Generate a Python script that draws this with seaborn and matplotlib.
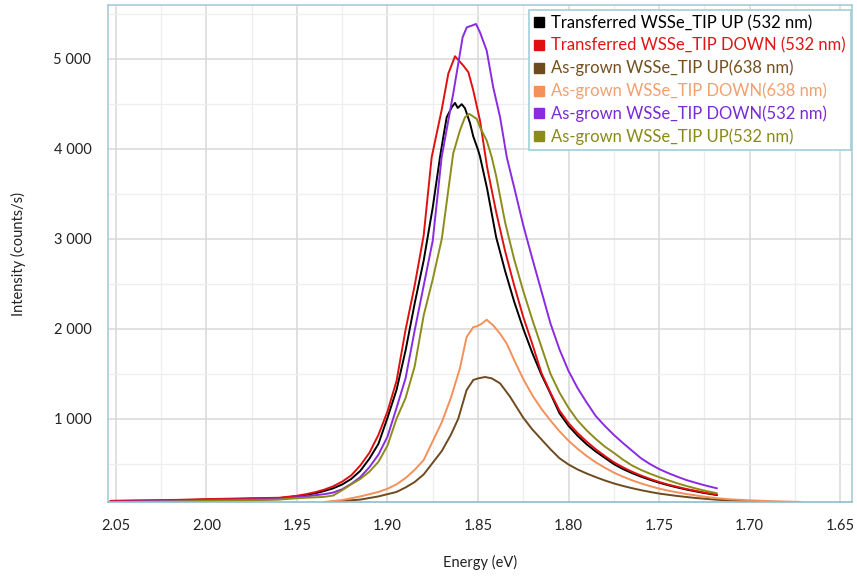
import matplotlib
matplotlib.use("Agg")
import matplotlib.pyplot as plt
from matplotlib.lines import Line2D
from matplotlib.ticker import MultipleLocator, FuncFormatter
import seaborn as sns
import pandas as pd

# ---------------- data ----------------
labels = [
    "Transferred WSSe_TIP UP (532 nm)",
    "Transferred WSSe_TIP DOWN (532 nm)",
    "As-grown WSSe_TIP UP(638 nm)",
    "As-grown WSSe_TIP DOWN(638 nm)",
    "As-grown WSSe_TIP DOWN(532 nm)",
    "As-grown WSSe_TIP UP(532 nm)",
]
line_colors = ["#000000", "#e01010", "#6e4a1f", "#f4905a", "#8a2be2", "#8c8c1c"]
text_colors = ["#000000", "#e01515", "#74501f", "#f2a070", "#7a2ad6", "#8a8a1a"]

black_E = [2.053, 2.02, 2.00, 1.975, 1.96, 1.95, 1.945, 1.94, 1.935, 1.93, 1.925, 1.92,
           1.915, 1.91, 1.905, 1.90, 1.895, 1.89, 1.885, 1.88, 1.875, 1.871, 1.8692,
           1.8673, 1.8645, 1.8627, 1.8612, 1.859, 1.8572, 1.8544, 1.8526, 1.85, 1.8489,
           1.845, 1.84, 1.835, 1.83, 1.825, 1.82, 1.815, 1.81, 1.805, 1.80, 1.795, 1.79,
           1.785, 1.78, 1.775, 1.77, 1.765, 1.76, 1.755, 1.75, 1.745, 1.74, 1.735, 1.73,
           1.725, 1.718]
black_I = [85, 90, 100, 110, 115, 138, 152, 170, 195, 225, 268, 330,
           420, 555, 720, 1010, 1320, 1760, 2280, 2760, 3350, 3907, 4130,
           4352, 4463, 4511, 4455, 4497, 4452, 4285, 4137, 3990, 3915,
           3560, 3020, 2640, 2300, 2000, 1730, 1490, 1280, 1060, 920, 810, 715,
           635, 565, 495, 440, 395, 355, 320, 288, 260, 235, 212, 192,
           173, 150]

red_E = [2.053, 2.02, 2.00, 1.975, 1.96, 1.95, 1.945, 1.94, 1.935, 1.93, 1.925, 1.92,
         1.915, 1.91, 1.905, 1.90, 1.895, 1.89, 1.885, 1.88, 1.8756, 1.8701, 1.8664,
         1.8627, 1.8614, 1.8581, 1.8553, 1.8526, 1.8489, 1.845, 1.84, 1.835, 1.83,
         1.825, 1.82, 1.815, 1.81, 1.805, 1.80, 1.795, 1.79, 1.785, 1.78, 1.775, 1.77,
         1.765, 1.76, 1.755, 1.75, 1.745, 1.74, 1.735, 1.73, 1.725, 1.718]
red_I = [85, 95, 105, 115, 120, 142, 160, 182, 210, 248, 300, 370,
         480, 620, 820, 1080, 1420, 1990, 2480, 3040, 3907, 4430, 4837,
         5030, 5000, 4926, 4852, 4648, 4315, 3800, 3300, 2860, 2480,
         2130, 1830, 1510, 1290, 1090, 950, 840, 745, 660, 585, 515, 460,
         410, 368, 330, 296, 267, 242, 218, 198, 178, 155]

brown_E = [1.9345, 1.925, 1.915, 1.905, 1.895, 1.89, 1.885, 1.88, 1.875, 1.87, 1.865,
           1.8609, 1.8563, 1.8526, 1.8499, 1.8461, 1.8424, 1.8378, 1.8323, 1.83, 1.825,
           1.82, 1.815, 1.81, 1.805, 1.80, 1.795, 1.79, 1.785, 1.78, 1.775, 1.77, 1.765,
           1.76, 1.755, 1.75, 1.74, 1.73, 1.718, 1.705, 1.695]
brown_I = [70, 85, 100, 135, 185, 235, 295, 380, 510, 640, 820,
           1000, 1318, 1430, 1448, 1463, 1448, 1392, 1244, 1170, 1010,
           880, 770, 660, 560, 490, 435, 390, 350, 313, 280, 252, 227,
           205, 185, 167, 140, 118, 98, 85, 78]

orange_E = [1.9345, 1.925, 1.915, 1.905, 1.90, 1.895, 1.89, 1.885, 1.88, 1.875, 1.87,
            1.865, 1.86, 1.8563, 1.8526, 1.8507, 1.848, 1.8452, 1.8416, 1.8378, 1.8341,
            1.83, 1.825, 1.82, 1.815, 1.81, 1.805, 1.80, 1.795, 1.79, 1.785, 1.78, 1.775,
            1.77, 1.765, 1.76, 1.755, 1.75, 1.745, 1.74, 1.735, 1.73, 1.725, 1.718, 1.71,
            1.70, 1.69, 1.68, 1.672]
orange_I = [74, 95, 135, 185, 220, 270, 340, 430, 540, 750, 960,
            1230, 1560, 1907, 2018, 2026, 2055, 2100, 2037, 1944, 1833,
            1650, 1440, 1260, 1110, 980, 860, 755, 665, 585, 515, 455, 400,
            355, 315, 280, 250, 222, 200, 180, 162, 147, 132, 115, 102,
            92, 84, 78, 74]

purple_E = [2.053, 2.02, 2.00, 1.975, 1.96, 1.95, 1.945, 1.94, 1.935, 1.93, 1.925, 1.92,
            1.915, 1.91, 1.905, 1.90, 1.895, 1.89, 1.885, 1.88, 1.875, 1.8701, 1.8664,
            1.8637, 1.8609, 1.8585, 1.8562, 1.8535, 1.8511, 1.8489, 1.8452, 1.8416, 1.8378,
            1.8341, 1.83, 1.825, 1.82, 1.815, 1.81, 1.805, 1.80, 1.795, 1.79, 1.785, 1.78,
            1.775, 1.77, 1.765, 1.76, 1.755, 1.75, 1.745, 1.74, 1.735, 1.73, 1.725, 1.718]
purple_I = [75, 85, 95, 100, 105, 125, 135, 148, 160, 178, 215, 275,
            350, 460, 600, 800, 1120, 1450, 1980, 2480, 2980, 3907, 4315,
            4615, 4948, 5241, 5352, 5370, 5389, 5296, 5093, 4685, 4352,
            3907, 3570, 3150, 2780, 2420, 2060, 1770, 1530, 1340, 1180, 1030, 920,
            820, 730, 645, 560, 495, 440, 395, 355, 318, 288, 260, 225]

olive_E = [2.053, 2.00, 1.975, 1.96, 1.95, 1.94, 1.935, 1.93, 1.925, 1.92, 1.915, 1.91,
           1.905, 1.90, 1.895, 1.89, 1.885, 1.88, 1.875, 1.87, 1.8637, 1.86, 1.8572,
           1.8548, 1.8507, 1.8489, 1.8452, 1.8424, 1.84, 1.835, 1.83, 1.825, 1.82, 1.815,
           1.81, 1.805, 1.80, 1.795, 1.79, 1.785, 1.78, 1.775, 1.77, 1.765, 1.76, 1.755,
           1.75, 1.745, 1.74, 1.735, 1.73, 1.725, 1.718]
olive_I = [70, 85, 92, 100, 115, 125, 130, 145, 205, 270, 330, 410,
           520, 700, 1000, 1230, 1580, 2150, 2550, 3000, 3950, 4204, 4352,
           4389, 4333, 4241, 4093, 3907, 3700, 3180, 2770, 2420, 2100, 1800,
           1500, 1290, 1120, 980, 870, 775, 690, 620, 545, 480, 430, 388,
           350, 315, 282, 252, 225, 200, 170]

series_E = [black_E, red_E, brown_E, orange_E, purple_E, olive_E]
series_I = [black_I, red_I, brown_I, orange_I, purple_I, olive_I]

x_ticks = [2.05, 2.00, 1.95, 1.90, 1.85, 1.80, 1.75, 1.70, 1.65]
y_ticks = [1000, 2000, 3000, 4000, 5000]

# ---------------- build table ----------------
frames = []
for lab, E, I in zip(labels, series_E, series_I):
    frames.append(pd.DataFrame({"Energy": E, "Intensity": I, "series": lab}))
df = pd.concat(frames, ignore_index=True)

sns.set_style("white")
plt.rcParams["font.family"] = ["Lato", "DejaVu Sans"]

fig = plt.figure(figsize=(8.57, 5.76), dpi=100)
ax = fig.add_axes([108 / 857, (576 - 502) / 576, (852 - 108) / 857, (502 - 5) / 576])

sns.lineplot(data=df, x="Energy", y="Intensity", hue="series", hue_order=labels,
             palette=dict(zip(labels, line_colors)), estimator=None, sort=False,
             linewidth=1.4, legend=False, ax=ax)

ax.set_xlim(2.0544, 1.6434)
ax.set_ylim(73, 5600)

ax.set_xticks(x_ticks)
ax.set_yticks(y_ticks)
ax.xaxis.set_minor_locator(MultipleLocator(0.025))
ax.yaxis.set_minor_locator(MultipleLocator(500))
ax.xaxis.set_major_formatter(FuncFormatter(lambda v, p: f"{v:.2f}"))
ax.yaxis.set_major_formatter(FuncFormatter(lambda v, p: f"{v:,.0f}".replace(",", " ")))

ax.grid(True, which="major", color="#d9d9d9", linewidth=1.1)
ax.grid(True, which="minor", color="#eeeeee", linewidth=0.9)
ax.set_axisbelow(True)

for s in ax.spines.values():
    s.set_visible(True)
    s.set_color("#a9cbd4")
    s.set_linewidth(1.2)
ax.spines["bottom"].set_color("#8fbccc")

ax.tick_params(axis="both", which="major", direction="out", length=5, width=0.8,
               color="#8a8a8a", labelsize=10.5, labelcolor="#222222", pad=7)
ax.tick_params(axis="both", which="minor", direction="out", length=3, width=0.8,
               color="#8a8a8a")

ax.set_xlabel("Energy (eV)", fontsize=10.5, color="#222222", labelpad=16)
ax.set_ylabel("Intensity (counts/s)", fontsize=10.5, color="#222222", labelpad=20)

handles = [Line2D([], [], marker="s", linestyle="none", color=c, markersize=7.5)
           for c in line_colors]
leg = ax.legend(handles, labels, loc="upper right",
                bbox_to_anchor=(851 / 857, (576 - 10) / 576), bbox_transform=fig.transFigure,
                frameon=True, fancybox=False, fontsize=12.0, handlelength=0.6,
                handletextpad=0.45, borderpad=0.3, labelspacing=0.38,
                borderaxespad=0.0, labelcolor=text_colors)
leg.get_frame().set_edgecolor("#9fd0da")
leg.get_frame().set_linewidth(1.2)
leg.get_frame().set_facecolor("white")
leg.get_frame().set_alpha(1.0)

fig.savefig("out.png", dpi=100)
